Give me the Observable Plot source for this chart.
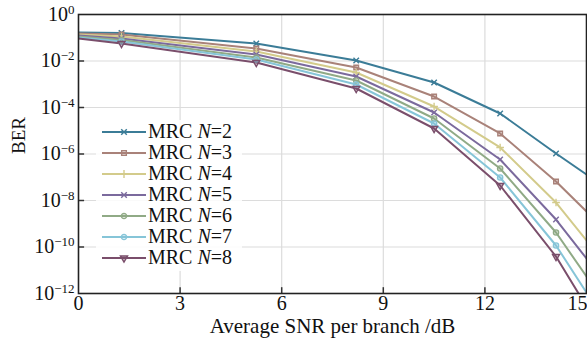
<!DOCTYPE html>
<html><head><meta charset="utf-8">
<script src="https://cdn.jsdelivr.net/npm/d3@7"></script>
<script src="https://cdn.jsdelivr.net/npm/@observablehq/plot@0.6"></script>
<style>
body{margin:0;background:#fff;}
#wrap{position:relative;width:587px;height:343px;font-family:"Liberation Serif","DejaVu Serif",serif;}
#wrap svg text{font-family:"Liberation Serif","DejaVu Serif",serif;}
#legend{position:absolute;left:96px;top:120px;width:146px;padding:1px 0 3px 0;background:rgba(255,255,255,0.85);font-family:"Liberation Serif","DejaVu Serif",serif;font-size:20px;color:#111;}
.row{display:flex;align-items:center;height:21px;}
.row svg{margin-left:6px;flex:none;}
.row span{margin-left:2px;white-space:nowrap;line-height:21px;}
</style></head><body><div id="wrap"><div id="legend"></div></div>
<script>
// Average SNR per branch (dB) sample points
const snrDb = [0, 1.27, 5.25, 8.2, 10.5, 12.45, 14.1, 15];
const markerIndex = [1, 2, 3, 4, 5, 6];
const seriesN = [2, 3, 4, 5, 6, 7, 8];
// BER values
const berN2 = [0.168, 0.160, 0.0566, 1.05e-2, 1.19e-3, 5.52e-5, 1.05e-6, 1.31e-7];
const berN3 = [0.152, 0.138, 0.0345, 5.25e-3, 2.97e-4, 7.62e-6, 6.56e-8, 3.37e-9];
const berN4 = [0.138, 0.113, 0.0256, 3.20e-3, 1.10e-4, 1.91e-6, 8.20e-9, 1.91e-10];
const berN5 = [0.125, 0.0929, 0.0191, 2.15e-3, 6.10e-5, 5.79e-7, 1.52e-9, 3.20e-11];
const berN6 = [0.113, 0.0800, 0.01416, 1.45e-3, 3.37e-5, 2.38e-7, 4.21e-10, 5.38e-12];
const berN7 = [0.1026, 0.0690, 0.01161, 9.75e-4, 2.05e-5, 9.75e-8, 1.16e-10, 1.10e-12];
const berN8 = [0.0929, 0.0566, 8.61e-3, 6.56e-4, 1.25e-5, 4.42e-8, 3.90e-11, 2.76e-13];
const xTicks = [0, 3, 6, 9, 12, 15];
const yTicks = [1, 1e-2, 1e-4, 1e-6, 1e-8, 1e-10, 1e-12];
const xLabel = "Average SNR per branch /dB";
const yLabel = "BER";

const colors = ["#3b7c97", "#a98279", "#d3cb8b", "#7b6a9d", "#90aa86", "#86c5d8", "#7a4e6b"];
const sqrt3 = Math.sqrt(3);
const triangleDown = {draw(ctx, size) {
  const y = Math.sqrt(size / (sqrt3 * 3));
  ctx.moveTo(0, y * 2); ctx.lineTo(-sqrt3 * y, -y); ctx.lineTo(sqrt3 * y, -y); ctx.closePath();
}};
const symbols = [d3.symbolTimes, d3.symbolSquare, d3.symbolPlus, d3.symbolTimes, d3.symbolCircle, d3.symbolCircle, triangleDown];

const bers = [berN2, berN3, berN4, berN5, berN6, berN7, berN8];
const data = seriesN.flatMap((n, k) => snrDb.map((x, i) => ({n, x, ber: bers[k][i], i})));
const markers = data.filter(d => markerIndex.includes(d.i));
const serif = "'Liberation Serif', 'DejaVu Serif', serif";

const chart = Plot.plot({
  width: 587, height: 343,
  marginLeft: 78, marginRight: 1, marginTop: 14, marginBottom: 50,
  style: {fontFamily: serif, fontSize: "20px", color: "#111", background: "#fff"},
  x: {domain: [0, 15]},
  y: {type: "log", domain: [1e-12, 1]},
  color: {type: "ordinal", domain: seriesN, range: colors},
  symbol: {domain: seriesN, range: symbols},
  marks: [
    Plot.ruleX(xTicks.slice(1, -1), {stroke: "#dcdcdc", strokeWidth: 1.2}),
    Plot.ruleY(yTicks.slice(1, -1), {stroke: "#dcdcdc", strokeWidth: 1.2}),
    Plot.ruleX(xTicks.slice(1, -1), {y1: 1e-12, y2: 10 ** -11.75, stroke: "#333", strokeWidth: 1.5}),
    Plot.ruleY(yTicks.slice(1, -1), {x1: 0, x2: 0.18, stroke: "#333", strokeWidth: 1.5}),
    Plot.line(data, {x: "x", y: "ber", z: "n", stroke: "n", strokeWidth: 2, clip: true}),
    Plot.dot(markers, {x: "x", y: "ber", stroke: "n", fill: "n", fillOpacity: 0.3, symbol: "n", r: 2.6, strokeWidth: 1.4, clip: true}),
    Plot.frame({stroke: "#222", strokeWidth: 1.6}),
    Plot.axisX(xTicks, {tickSize: 0, tickPadding: 2, fontSize: 20, fontFamily: serif, label: null}),
    Plot.axisY(yTicks, {tickSize: 0, tickPadding: 4, fontSize: 20, fontFamily: serif, label: null, tickFormat: d => String(Math.round(Math.log10(d)))}),
    Plot.text([xLabel], {frameAnchor: "bottom", dy: 39, fontSize: 21, fontFamily: serif, fill: "#111"}),
    Plot.text([yLabel], {frameAnchor: "left", dx: -60, rotate: -90, fontSize: 19, fontFamily: serif, fill: "#111"})
  ]
});
document.getElementById("wrap").prepend(chart);

// superscript y tick labels (10^k)
d3.select(chart).selectAll('g[aria-label="y-axis tick label"] text').each(function() {
  const k = this.textContent.replace("-", "\u2212");
  const t = d3.select(this);
  t.text(null);
  t.append("tspan").text("10");
  t.append("tspan").attr("dy", "-0.55em").attr("font-size", "13px").text(k);
});
// keep the last x label inside the frame
d3.select(chart).selectAll('g[aria-label="x-axis tick label"] text').each(function() {
  if (this.textContent === "15") d3.select(this).attr("text-anchor", "end").attr("dx", 1);
});

// legend
const legend = d3.select("#legend");
seriesN.forEach((n, k) => {
  const row = legend.append("div").attr("class", "row");
  const s = row.append("svg").attr("width", 44).attr("height", 14);
  s.append("line").attr("x1", 0).attr("x2", 44).attr("y1", 7).attr("y2", 7).attr("stroke", colors[k]).attr("stroke-width", 2);
  s.append("path").attr("transform", "translate(22,7)").attr("d", d3.symbol(symbols[k], 22)())
    .attr("stroke", colors[k]).attr("fill", colors[k]).attr("fill-opacity", 0.3).attr("stroke-width", 1.4);
  const sp = row.append("span");
  sp.append("tspan").text("MRC ");
  sp.append("i").text("N");
  sp.append("tspan").text("=" + n);
});
</script></body></html>
